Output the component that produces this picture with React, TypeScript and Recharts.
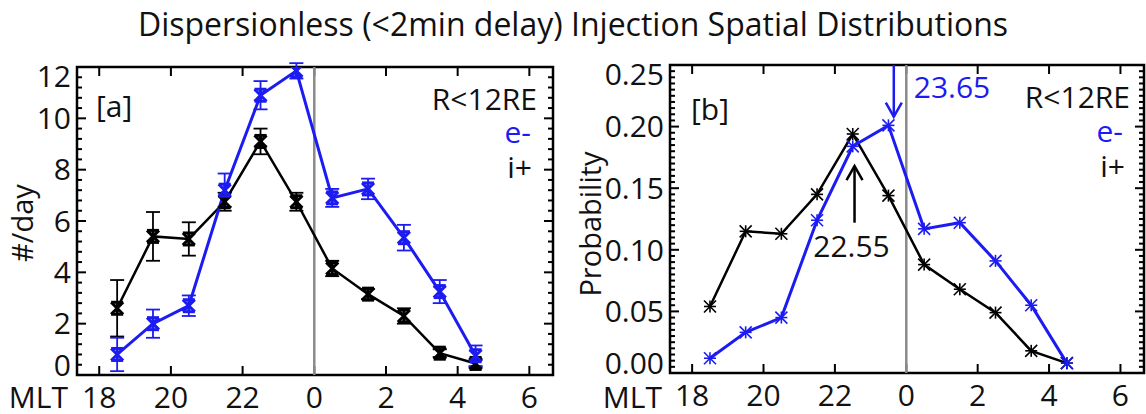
import { LineChart, Line, XAxis, YAxis, ErrorBar, ReferenceLine, ReferenceArea } from 'recharts';

// MLT bin centres (hours, after-midnight bins written as 24+h)
const mltHours = [18.5, 19.5, 20.5, 21.5, 22.5, 23.5, 24.5, 25.5, 26.5, 27.5, 28.5];

// [a] occurrence rate (#/day)
const ionRate = [2.6, 5.4, 5.3, 6.75, 9.1, 6.75, 4.15, 3.15, 2.3, 0.85, 0.45];
const ionRateErr = [1.1, 0.95, 0.65, 0.35, 0.5, 0.35, 0.3, 0.2, 0.3, 0.15, 0.15];
const elecRate = [0.8, 2.0, 2.7, 7.2, 10.9, 11.85, 6.9, 7.25, 5.35, 3.25, 0.75];
const elecRateErr = [0.65, 0.55, 0.4, 0.65, 0.55, 0.3, 0.35, 0.4, 0.5, 0.45, 0.4];

// [b] probability
const ionProb = [0.054, 0.115, 0.113, 0.145, 0.194, 0.144, 0.088, 0.068, 0.049, 0.018, 0.008];
const elecProb = [0.012, 0.033, 0.045, 0.124, 0.184, 0.201, 0.117, 0.122, 0.091, 0.055, 0.008];

// peak MLT markers
const ionPeak = 22.55;
const elecPeak = 23.65;

const xTicks = [18, 20, 22, 24, 26, 28, 30];
const rateTicks = [0, 2, 4, 6, 8, 10, 12];
const probTicks = [0, 0.05, 0.1, 0.15, 0.2, 0.25];
const xDomain: [number, number] = [17.38, 30.66];

const BLUE = '#1c1cf2';
const FONT = '"Open Sans", sans-serif';

const rateData = mltHours.map((mlt, i) => ({
  mlt,
  ion: ionRate[i],
  ionErr: ionRateErr[i],
  elec: elecRate[i],
  elecErr: elecRateErr[i],
}));

const probData = mltHours.map((mlt, i) => ({
  mlt,
  ion: ionProb[i],
  elec: elecProb[i],
}));

// major ticks plus evenly split minor ticks between them
function withMinor(major: number[], parts: number) {
  const out: { v: number; major: boolean }[] = [];
  for (let i = 0; i < major.length; i++) {
    out.push({ v: major[i], major: true });
    if (i < major.length - 1) {
      const step = (major[i + 1] - major[i]) / parts;
      for (let k = 1; k < parts; k++) out.push({ v: +(major[i] + k * step).toFixed(5), major: false });
    }
  }
  return out;
}

function Asterisk({ cx, cy, color, thick }: any) {
  const r = 6;
  const sw = thick ? 3 : 1.6;
  return (
    <g stroke={color} strokeWidth={sw}>
      <line x1={cx - r} y1={cy - r} x2={cx + r} y2={cy + r} />
      <line x1={cx - r} y1={cy + r} x2={cx + r} y2={cy - r} />
      <line x1={cx} y1={cy - r} x2={cx} y2={cy + r} />
      {thick ? (
        <>
          <line x1={cx - r} y1={cy - r} x2={cx + r} y2={cy - r} />
          <line x1={cx - r} y1={cy + r} x2={cx + r} y2={cy + r} />
        </>
      ) : (
        <line x1={cx - r} y1={cy} x2={cx + r} y2={cy} />
      )}
    </g>
  );
}

const hourLabel = (v: number) => String(Math.round(v) % 24);

// inward tick marks drawn at both ends of a reference line
const vTickShape = (len: number) => (p: any) => {
  const top = Math.min(p.y1, p.y2);
  const bot = Math.max(p.y1, p.y2);
  return (
    <g stroke="#000" strokeWidth={2}>
      <line x1={p.x1} y1={top} x2={p.x1} y2={top + len} />
      <line x1={p.x1} y1={bot} x2={p.x1} y2={bot - len} />
    </g>
  );
};
const hTickShape = (len: number) => (p: any) => {
  const l = Math.min(p.x1, p.x2);
  const r = Math.max(p.x1, p.x2);
  return (
    <g stroke="#000" strokeWidth={2}>
      <line x1={l} y1={p.y1} x2={l + len} y2={p.y1} />
      <line x1={r} y1={p.y1} x2={r - len} y2={p.y1} />
    </g>
  );
};

interface PanelProps {
  data: any[];
  left: number;
  width: number;
  plotLeft: number;
  plotTop: number;
  plotRight: number;
  plotBottom: number;
  ticks: number[];
  minorParts: number;
  fmt: (v: number) => string;
  errors: boolean;
  children?: any;
}

function Panel({ data, left, width, plotLeft, plotTop, plotRight, plotBottom, ticks, minorParts, fmt, errors, children }: PanelProps) {
  const yTicks = withMinor(ticks, minorParts);
  const yDomain: [number, number] = [ticks[0], ticks[ticks.length - 1]];

  const leftTick = ({ x, y, payload }: any) => {
    const ly = Math.min(Math.max(y, plotTop + 9), plotBottom - 10);
    return (
      <text x={x - 6} y={ly} dy="0.36em" textAnchor="end" fontSize={30} fontFamily={FONT} fill="#111">
        {fmt(payload.value)}
      </text>
    );
  };
  const bottomTick = ({ x, y, payload }: any) => (
    <text x={x} y={y + 33} textAnchor="middle" fontSize={30} fontFamily={FONT} fill="#111">
      {hourLabel(payload.value)}
    </text>
  );

  const dot = (color: string, thick: boolean) => (p: any) =>
    <Asterisk key={`${color}-${p.index}`} cx={p.cx} cy={p.cy} color={color} thick={thick} />;

  return (
    <div style={{ position: 'absolute', left, top: 0 }}>
      <LineChart
        width={width}
        height={414}
        data={data}
        margin={{ top: plotTop, right: width - plotRight, left: 0, bottom: 0 }}
      >
        <XAxis
          dataKey="mlt"
          type="number"
          domain={xDomain}
          allowDataOverflow
          ticks={xTicks}
          interval={0}
          tickSize={0}
          tickMargin={0}
          tickLine={false}
          axisLine={false}
          height={414 - plotBottom}
          tick={bottomTick}
        />
        <YAxis
          type="number"
          domain={yDomain}
          allowDataOverflow
          ticks={ticks}
          interval={0}
          tickSize={0}
          tickMargin={0}
          tickLine={false}
          axisLine={false}
          width={plotLeft}
          tick={leftTick}
        />
        {xTicks.map(t => (
          <ReferenceLine key={`xt${t}`} x={t} stroke="none" shape={vTickShape(9)} />
        ))}
        {yTicks.map(t => (
          <ReferenceLine key={`yt${t.v}`} y={t.v} stroke="none" shape={hTickShape(t.major ? 9 : 5)} />
        ))}
        <ReferenceLine x={24} stroke="#8a8a8a" strokeWidth={2.5} />
        <ReferenceArea
          x1={xDomain[0]}
          x2={xDomain[1]}
          y1={yDomain[0]}
          y2={yDomain[1]}
          fill="none"
          fillOpacity={0}
          stroke="#000"
          strokeWidth={2.5}
          ifOverflow="visible"
        />
        <Line
          dataKey="ion"
          type="linear"
          stroke="#000"
          strokeWidth={2.5}
          dot={dot('#000', errors)}
          isAnimationActive={false}
        >
          {errors && <ErrorBar dataKey="ionErr" direction="y" width={7} stroke="#000" strokeWidth={1.8} />}
        </Line>
        <Line
          dataKey="elec"
          type="linear"
          stroke={BLUE}
          strokeWidth={3}
          dot={dot(BLUE, errors)}
          isAnimationActive={false}
        >
          {errors && <ErrorBar dataKey="elecErr" direction="y" width={7} stroke={BLUE} strokeWidth={1.8} />}
        </Line>
        {children}
      </LineChart>
    </div>
  );
}

const arrowShape = (color: string, label: string, up: boolean) => (props: any) => {
  const { x1, y1, x2, y2 } = props;
  const head = up ? -1 : 1;
  return (
    <g>
      <line x1={x1} y1={y1} x2={x2} y2={y2} stroke={color} strokeWidth={2.5} />
      <polyline
        points={`${x2 - 8},${y2 - head * 14} ${x2},${y2} ${x2 + 8},${y2 - head * 14}`}
        fill="none"
        stroke={color}
        strokeWidth={2.5}
      />
      {up ? (
        <text x={x1 - 3} y={y1 + 34} textAnchor="middle" fontSize={30} fontFamily={FONT} fill="#111">
          {label}
        </text>
      ) : (
        <text x={x1 + 20} y={y1 + 33} textAnchor="start" fontSize={30} fontFamily={FONT} fill={color}>
          {label}
        </text>
      )}
    </g>
  );
};

export default function App() {
  const txt = { fontFamily: FONT, fill: '#111' } as const;
  return (
    <div style={{ position: 'absolute', left: 0, top: 0, width: 1146, height: 414, background: '#fff' }}>
      <Panel
        data={rateData}
        left={0}
        width={570}
        plotLeft={77}
        plotTop={67}
        plotRight={553}
        plotBottom={375}
        ticks={rateTicks}
        minorParts={5}
        fmt={v => String(v)}
        errors
      />
      <Panel
        data={probData}
        left={570}
        width={576}
        plotLeft={100}
        plotTop={65}
        plotRight={574}
        plotBottom={373}
        ticks={probTicks}
        minorParts={10}
        fmt={v => v.toFixed(2)}
        errors={false}
      >
        <ReferenceLine
          segment={[{ x: ionPeak, y: 0.122 }, { x: ionPeak, y: 0.168 }]}
          shape={arrowShape('#000', String(ionPeak), true)}
        />
        <ReferenceLine
          segment={[{ x: elecPeak, y: 0.25 }, { x: elecPeak, y: 0.208 }]}
          shape={arrowShape(BLUE, String(elecPeak), false)}
        />
      </Panel>
      <svg width={1146} height={414} style={{ position: 'absolute', left: 0, top: 0, pointerEvents: 'none' }}>
        <text x={573} y={36} textAnchor="middle" fontSize={32} {...txt}>
          Dispersionless (&lt;2min delay) Injection Spatial Distributions
        </text>
        <text x={68} y={408} textAnchor="end" fontSize={30} {...txt}>MLT</text>
        <text x={662} y={408} textAnchor="end" fontSize={30} {...txt}>MLT</text>
        <text transform="translate(33,223) rotate(-90)" textAnchor="middle" fontSize={29} {...txt}>#/day</text>
        <text transform="translate(601,224) rotate(-90)" textAnchor="middle" fontSize={29} {...txt}>Probability</text>
        <text x={96} y={117} fontSize={30} {...txt}>[a]</text>
        <text x={691} y={120} fontSize={30} {...txt}>[b]</text>
        <text x={537} y={110} textAnchor="end" fontSize={30} {...txt}>R&lt;12RE</text>
        <text x={531} y={143} textAnchor="end" fontSize={30} fontFamily={FONT} fill={BLUE}>e-</text>
        <text x={532} y={178} textAnchor="end" fontSize={30} {...txt}>i+</text>
        <text x={1130} y={108} textAnchor="end" fontSize={30} {...txt}>R&lt;12RE</text>
        <text x={1123} y={142} textAnchor="end" fontSize={30} fontFamily={FONT} fill={BLUE}>e-</text>
        <text x={1125} y={177} textAnchor="end" fontSize={30} {...txt}>i+</text>
      </svg>
    </div>
  );
}
